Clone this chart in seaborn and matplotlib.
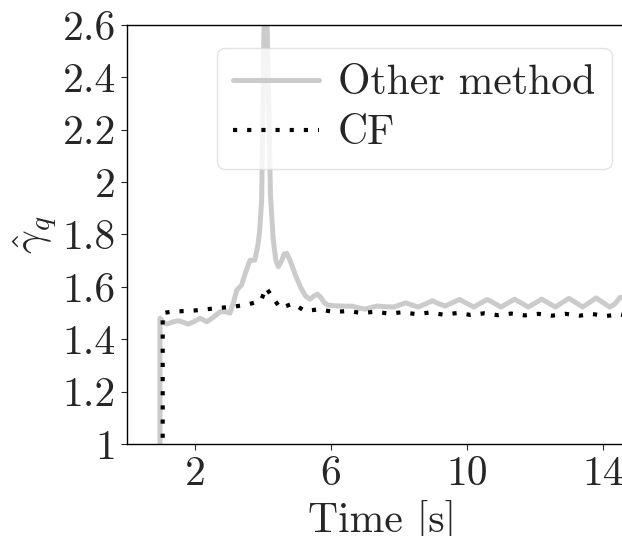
import matplotlib
matplotlib.use("Agg")
import matplotlib.pyplot as plt
import seaborn as sns
import pandas as pd

# ---- data ----
other_t = [0.97, 0.97, 1.05, 1.17, 1.35, 1.51, 1.65, 1.80, 1.98, 2.15, 2.35, 2.55, 2.74, 2.9, 3.03,
           3.13, 3.23, 3.37, 3.5, 3.62, 3.76, 3.85, 3.9, 3.96, 4.03, 4.07, 4.12, 4.22, 4.3, 4.38,
           4.45, 4.55, 4.62, 4.70, 4.8, 4.94, 5.1, 5.25, 5.38, 5.5, 5.6, 5.7, 5.8, 5.91, 6.2,
           6.64, 6.8, 7.0, 7.2, 7.36, 7.6, 7.85, 8.0, 8.2, 8.4, 8.56, 8.78, 8.98, 9.18, 9.36,
           9.58, 9.78, 9.98, 10.2, 10.4, 10.6, 10.8, 11.0, 11.2, 11.4, 11.6, 11.8, 12.0, 12.2,
           12.4, 12.6, 12.8, 13.0, 13.2, 13.4, 13.6, 13.8, 14.0, 14.2, 14.35, 14.5, 14.7]
other_v = [0.0, 1.48, 1.465, 1.458, 1.466, 1.471, 1.465, 1.458, 1.468, 1.48, 1.467, 1.485, 1.505, 1.505, 1.50,
           1.54, 1.588, 1.607, 1.66, 1.702, 1.702, 1.76, 1.81, 1.93, 2.6, 3.2, 2.6, 1.95, 1.78, 1.70,
           1.677, 1.70, 1.725, 1.728, 1.70, 1.65, 1.60, 1.565, 1.553, 1.565, 1.572, 1.56, 1.54, 1.53, 1.527,
           1.526, 1.52, 1.515, 1.522, 1.527, 1.524, 1.523, 1.53, 1.539, 1.53, 1.523, 1.535, 1.547, 1.535, 1.527,
           1.54, 1.552, 1.538, 1.523, 1.538, 1.552, 1.538, 1.523, 1.538, 1.553, 1.538, 1.523, 1.538, 1.553,
           1.538, 1.523, 1.54, 1.556, 1.54, 1.523, 1.54, 1.558, 1.54, 1.523, 1.535, 1.56, 1.555]

cf_t = [1.05, 1.05, 1.3, 2.0, 2.66, 3.17, 3.56, 3.94, 4.09, 4.27, 4.51, 4.88, 5.23, 5.64, 6.1, 6.5,
        6.9, 7.3, 7.7, 8.1, 8.5, 8.9, 9.3, 9.7, 10.1, 10.5, 10.9, 11.3, 11.7, 12.1, 12.5, 12.9,
        13.3, 13.7, 14.1, 14.5, 14.7]
cf_v = [0.0, 1.50, 1.505, 1.51, 1.519, 1.525, 1.533, 1.547, 1.597, 1.562, 1.519, 1.536, 1.508, 1.514, 1.504, 1.508,
        1.50, 1.505, 1.498, 1.503, 1.496, 1.502, 1.494, 1.50, 1.493, 1.499, 1.492, 1.498, 1.491, 1.497, 1.49, 1.497,
        1.49, 1.496, 1.489, 1.495, 1.49]

series_names = ["Other method", "CF"]
x_ticks = [2, 6, 10, 14]
x_tick_labels = ["2", "6", "10", "14"]
y_ticks = [1, 1.2, 1.4, 1.6, 1.8, 2, 2.2, 2.4, 2.6]
y_tick_labels = ["1", "1.2", "1.4", "1.6", "1.8", "2", "2.2", "2.4", "2.6"]

# ---- style ----
sns.set_style("ticks")
plt.rcParams["font.family"] = ["cmr10"]
plt.rcParams["mathtext.fontset"] = "cm"
plt.rcParams["axes.formatter.use_mathtext"] = True

W, H = 622, 536
fig = plt.figure(figsize=(W / 100, H / 100), dpi=100)
ax = fig.add_axes([127 / W, (H - 444) / H, 510 / W, 419 / H])

df_o = pd.DataFrame({"t": other_t, "v": other_v})
df_c = pd.DataFrame({"t": cf_t, "v": cf_v})

sns.lineplot(data=df_o, x="t", y="v", ax=ax, estimator=None, sort=False,
             color="#cbcbcb", linewidth=3.6, label=series_names[0])
sns.lineplot(data=df_c, x="t", y="v", ax=ax, estimator=None, sort=False,
             color="black", linewidth=3.0, label=series_names[1])
ax.lines[1].set_dashes((1.0, 2.4))

ax.set_xlim(0, 15)
ax.set_ylim(1, 2.6)
ax.set_xticks(x_ticks)
ax.set_xticklabels(x_tick_labels)
ax.set_yticks(y_ticks)
ax.set_yticklabels(y_tick_labels)
ax.tick_params(labelsize=30, length=4, width=0.8, direction="out", pad=4)
for s in ["top", "right", "left", "bottom"]:
    ax.spines[s].set_visible(True)
    ax.spines[s].set_linewidth(1.0)
    ax.spines[s].set_color("black")

ax.set_xlabel("Time [s]", fontsize=30, labelpad=5)
ax.set_ylabel(r"$\hat{\gamma}_q$", fontsize=30, labelpad=2)

leg = ax.legend(loc="upper left", bbox_to_anchor=(0.176, 0.945), borderaxespad=0,
                fontsize=30, handlelength=2.05, handletextpad=0.45, frameon=True,
                fancybox=True, framealpha=0.8, borderpad=0.4, labelspacing=0.3)
leg.get_frame().set_edgecolor("#dddddd")

fig.savefig("out.png", dpi=100)
